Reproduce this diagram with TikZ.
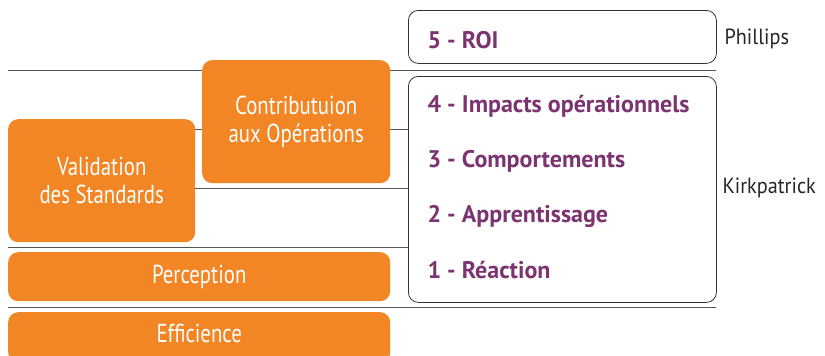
\documentclass[tikz,border=0pt]{standalone}
\usepackage{fontspec}
\setmainfont{PT Sans}
\newfontfamily\condf[FakeStretch=0.8]{PT Sans}
\newfontfamily\boldf[FakeStretch=1.0]{PT Sans Bold}
\newfontfamily\labf[FakeStretch=0.92]{PT Sans}
\definecolor{orangeF}{HTML}{F28524}
\definecolor{purpleT}{HTML}{7B3470}
\definecolor{lineG}{HTML}{555555}
\tikzset{
  obox/.style={fill=orangeF, draw=none, rounded corners=10pt, text=white, font=\condf\fontsize{26}{28}\selectfont, align=center},
  wbox/.style={draw=black!80, line width=0.8pt, fill=white, rounded corners=10pt},
  lvl/.style={anchor=west, text=purpleT, font=\boldf\fontsize{24}{28}\selectfont},
  side/.style={anchor=west, text=black!85, font=\labf\fontsize{22}{26}\selectfont},
  sep/.style={draw=lineG, line width=0.8pt}
}
\begin{document}
\begin{tikzpicture}[x=1pt,y=-1pt]
\useasboundingbox (0,0) rectangle (825,356);
\clip (0,0) rectangle (825,356);
% separators
\coordinate (l1a) at (8,70);   \coordinate (l1b) at (716,70);
\coordinate (l2a) at (8,129);  \coordinate (l2b) at (408,129);
\coordinate (l3a) at (8,188);  \coordinate (l3b) at (408,188);
\coordinate (l4a) at (8,247);  \coordinate (l4b) at (408,247);
\coordinate (l5a) at (8,307);  \coordinate (l5b) at (716,307);
\draw[sep] (l1a) -- (l1b);
\draw[sep] (l2a) -- (l2b);
\draw[sep] (l3a) -- (l3b);
\draw[sep] (l4a) -- (l4b);
\draw[sep] (l5a) -- (l5b);
% white boxes
\node[wbox, minimum width=308pt, minimum height=53pt, anchor=north west] (roi) at (408,10) {};
\node[wbox, minimum width=308pt, minimum height=226pt, anchor=north west] (kirk) at (408,76) {};
% orange boxes
\node[obox, minimum width=187pt, minimum height=123pt, anchor=north west] (val) at (8,119) {Validation\\des Standards};
\node[obox, minimum width=188pt, minimum height=123pt, anchor=north west] (contr) at (202,60) {Contributuion\\aux Op\'erations};
\node[obox, minimum width=382pt, minimum height=49pt, anchor=north west] (perc) at (8,252) {Perception};
\node[obox, minimum width=382pt, minimum height=50pt, anchor=north west, text depth=8pt] (eff) at (8,312) {Efficience};
% level labels
\node[lvl] (t5) at (424,40) {5 - ROI};
\node[lvl] (t4) at (424,106) {4 - Impacts op\'erationnels};
\node[lvl] (t3) at (424,161) {3 - Comportements};
\node[lvl] (t2) at (424,216) {2 - Apprentissage};
\node[lvl] (t1) at (424,270) {1 - R\'eaction};
\node[side] (ph) at (721,39) {Phillips};
\node[side] (kp) at (719,188) {Kirkpatrick};
\end{tikzpicture}
\end{document}
